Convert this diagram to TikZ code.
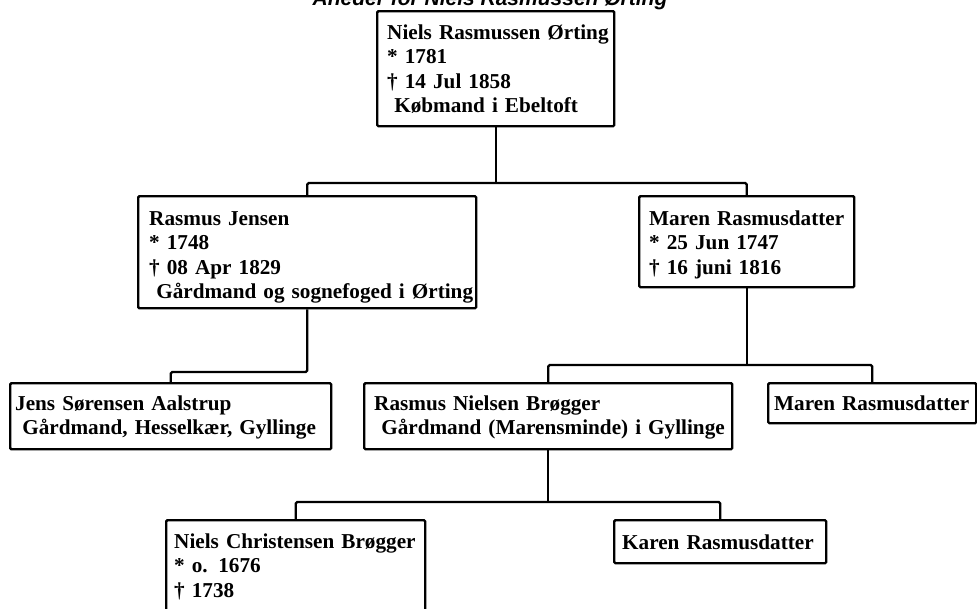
\documentclass[tikz,border=0pt]{standalone}
\usepackage{fontspec}
\setmainfont{Liberation Serif}
\newfontfamily\titlefont{Liberation Sans}
\newcommand\boxfont{\bfseries\fontsize{21.2}{24.5}\selectfont}
\begin{document}
\begin{tikzpicture}[x=1pt,y=-1pt,
  person/.style={draw, line width=2.4pt, rounded corners=1.2pt, inner ysep=0pt,
    anchor=north west, align=left, font=\boxfont},
  link/.style={line width=2.4pt, rounded corners=1.5pt}]
\fill[white] (0,0) rectangle (977,608);
\useasboundingbox (0,0) rectangle (977,608);

\node[anchor=base, font=\titlefont\bfseries\itshape\fontsize{21}{25}\selectfont] (title) at (490,5) {Aneder for Niels Rasmussen Ørting};

\node[person, text width=217pt, inner xsep=10pt, text height=28pt, text depth=87pt] (A) at (376,10)
  {\mbox{Niels Rasmussen Ørting}\\ \mbox{* 1781}\\ \mbox{† 14 Jul 1858}\\ \mbox{\ Købmand i Ebeltoft}};

\node[person, text width=316pt, inner xsep=11pt, text height=29pt, text depth=83pt] (B) at (137,195)
  {\mbox{Rasmus Jensen}\\ \mbox{* 1748}\\ \mbox{† 08 Apr 1829}\\ \mbox{\ Gårdmand og sognefoged i Ørting}};

\node[person, text width=195pt, inner xsep=10pt, text height=29pt, text depth=62pt] (C) at (638,195)
  {\mbox{Maren Rasmusdatter}\\ \mbox{* 25 Jun 1747}\\ \mbox{† 16 juni 1816}};

\node[person, text width=311pt, inner xsep=5pt, text height=27pt, text depth=39pt] (D) at (9,382)
  {\mbox{Jens Sørensen Aalstrup}\\ \mbox{\ Gårdmand, Hesselkær, Gyllinge}};

\node[person, text width=348pt, inner xsep=10pt, text height=27pt, text depth=39pt] (E) at (363,382)
  {\mbox{Rasmus Nielsen Brøgger}\\ \mbox{\ Gårdmand (Marensminde) i Gyllinge}};

\node[person, text width=196pt, inner xsep=6pt, text height=27pt, text depth=13pt] (F) at (767,382)
  {\mbox{Maren Rasmusdatter}};

\node[person, text width=243pt, inner xsep=8pt, text height=28pt, text depth=120pt] (G) at (165,519)
  {\mbox{Niels Christensen Brøgger}\\ \mbox{* o. 1676}\\ \mbox{† 1738}};

\node[person, text width=196pt, inner xsep=8pt, text height=29pt, text depth=14pt] (H) at (613,519)
  {\mbox{Karen Rasmusdatter}};

\coordinate (j1) at (A.south |- 0,183);
\coordinate (j2) at (B.south |- 0,372);
\coordinate (j3) at (C.south |- 0,365);
\coordinate (j4) at (E.south |- 0,502);

\draw[link] (A.south) -- (j1);
\draw[link] (B.north) |- (j1) -| (C.north);
\draw[link] (B.south) -- (j2) -| (D.north);
\draw[link] (C.south) -- (j3);
\draw[link] (E.north) |- (j3) -| (F.north);
\draw[link] (E.south) -- (j4);
\draw[link] (G.north) |- (j4) -| (H.north);
\end{tikzpicture}
\end{document}
